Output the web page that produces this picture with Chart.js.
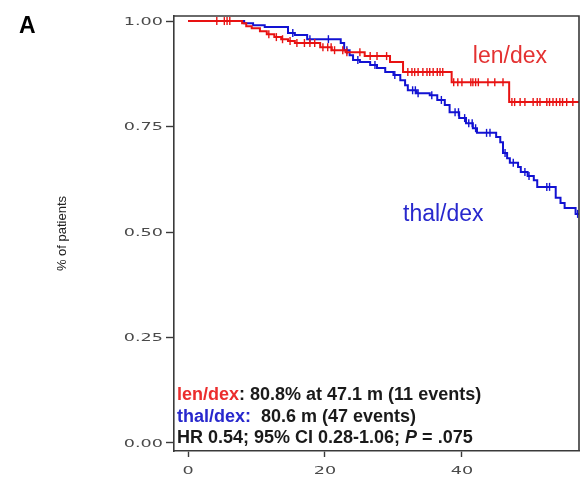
<!DOCTYPE html>
<html>
<head>
<meta charset="utf-8">
<script src="https://cdn.jsdelivr.net/npm/chart.js@4/dist/chart.umd.min.js"></script>
<style>
html,body{margin:0;padding:0;background:#fff;}
canvas{display:block;}
</style>
</head>
<body>
<canvas id="c" width="581" height="482"></canvas>
<script>
// ---- data ----
const redTimes = [0, 7.9, 8.5, 9.3, 10.5, 11.5, 12.6, 13.6, 14.6, 15.6, 19.3, 21.0, 23.0, 25.8, 29.5, 31.4, 38.5, 46.9, 57.1];
const redSurv  = [1.0, 0.995, 0.988, 0.983, 0.976, 0.969, 0.962, 0.957, 0.953, 0.948, 0.938, 0.931, 0.926, 0.917, 0.903, 0.879, 0.855, 0.808, 0.808];
const blueTimes = [0, 8.2, 9.5, 11.2, 14.6, 15.6, 17.4, 22.3, 22.8, 23.6, 24.1, 25.1, 26.6, 27.6, 28.8, 30.0, 31.0, 31.7, 32.1, 33.4, 35.3, 36.4, 37.5, 38.2, 39.6, 40.6, 41.6, 42.2, 45.0, 45.6, 46.0, 46.6, 47.0, 48.2, 48.6, 49.6, 50.5, 51.0, 53.7, 54.4, 55.0, 56.6, 57.1];
const blueSurv  = [1.0, 0.995, 0.990, 0.986, 0.972, 0.967, 0.957, 0.948, 0.931, 0.919, 0.908, 0.903, 0.896, 0.889, 0.879, 0.872, 0.860, 0.848, 0.836, 0.829, 0.824, 0.813, 0.801, 0.784, 0.770, 0.758, 0.746, 0.735, 0.725, 0.713, 0.687, 0.675, 0.664, 0.654, 0.642, 0.633, 0.623, 0.607, 0.581, 0.569, 0.557, 0.543, 0.543];
const redCensor = [4.2, 5.3, 5.7, 6.1, 11.8, 12.9, 13.8, 14.9, 15.9, 17.0, 17.8, 18.5, 19.7, 20.4, 20.9, 21.4, 22.6, 23.2, 25.1, 26.6, 27.6, 29.0, 32.1, 32.7, 33.1, 33.6, 34.3, 34.9, 35.3, 35.8, 36.4, 36.8, 37.2, 38.8, 39.4, 40.0, 41.3, 41.6, 42.0, 42.4, 43.8, 44.8, 46.0, 47.3, 47.7, 48.5, 49.2, 50.4, 51.0, 51.4, 52.4, 52.8, 53.3, 53.8, 54.3, 54.7, 55.3, 56.2];
const blueCensor = [15.3, 17.8, 20.5, 23.2, 24.8, 27.3, 30.2, 32.8, 33.2, 33.6, 35.6, 37.0, 39.0, 39.5, 40.4, 41.0, 41.5, 42.0, 43.6, 44.1, 46.3, 47.5, 49.2, 49.8, 52.4, 52.8, 56.9];
const xTicks = [0, 20, 40];
const yTicks = [0, 0.25, 0.5, 0.75, 1.0];
const yTickLabels = ['0.00', '0.25', '0.50', '0.75', '1.00'];
const seriesNames = ['len/dex', 'thal/dex'];

// ---- helpers ----
function toPoints(ts, ss) { return ts.map((t, i) => ({x: t, y: ss[i]})); }
function stepAt(ts, ss, t) { let v = ss[0]; for (let i = 0; i < ts.length; i++) { if (ts[i] <= t) v = ss[i]; } return v; }
function censorPoints(cs, ts, ss) { return cs.map(t => ({x: t, y: stepAt(ts, ss, t)})); }

const RED = 'rgb(232,18,18)';
const BLUE = 'rgb(18,18,210)';
const AXIS = '#3a3a3a';

const overlay = {
  id: 'overlay',
  afterDraw(chart) {
    const ctx = chart.ctx;
    const a = chart.chartArea;
    const xs = chart.scales.x, ys = chart.scales.y;
    ctx.save();
    // frame top & right
    ctx.strokeStyle = AXIS; ctx.lineWidth = 1.6;
    ctx.beginPath();
    ctx.moveTo(a.left, a.top); ctx.lineTo(a.right, a.top); ctx.lineTo(a.right, a.bottom);
    ctx.stroke();
    // y tick labels (wide font)
    ctx.fillStyle = '#4a4a4a';
    ctx.font = '11px "DejaVu Sans"';
    ctx.textBaseline = 'middle';
    ctx.textAlign = 'right';
    yTicks.forEach((v, i) => {
      const y = ys.getPixelForValue(v);
      ctx.save(); ctx.translate(a.left - 11, y + 1); ctx.scale(1.6, 1);
      ctx.fillText(yTickLabels[i], 0, 0); ctx.restore();
    });
    ctx.textAlign = 'center';
    xTicks.forEach(v => {
      const x = xs.getPixelForValue(v);
      ctx.save(); ctx.translate(x, a.bottom + 20); ctx.scale(1.6, 1);
      ctx.fillText(String(v), 0, 0); ctx.restore();
    });
    // panel letter
    ctx.fillStyle = '#000';
    ctx.textAlign = 'left'; ctx.textBaseline = 'alphabetic';
    ctx.font = 'bold 23px "Liberation Sans", Arial, sans-serif';
    ctx.fillText('A', 19, 33);
    // series labels
    ctx.font = '23px "Liberation Sans", Arial, sans-serif';
    ctx.fillStyle = 'rgb(228,50,50)';
    ctx.fillText(seriesNames[0], xs.getPixelForValue(41.6), ys.getPixelForValue(0.900));
    ctx.fillStyle = 'rgb(40,40,205)';
    ctx.fillText(seriesNames[1], xs.getPixelForValue(31.4), ys.getPixelForValue(0.526));
    // summary text
    const bold = 'bold 18px "Liberation Sans", Arial, sans-serif';
    const boldIt = 'italic bold 18px "Liberation Sans", Arial, sans-serif';
    function runs(parts, x, y) {
      parts.forEach(p => {
        ctx.font = p[2] || bold; ctx.fillStyle = p[1];
        ctx.fillText(p[0], x, y); x += ctx.measureText(p[0]).width;
      });
    }
    const x0 = a.left + 3;
    runs([[seriesNames[0], 'rgb(235,45,45)'], [': 80.8% at 47.1 m (11 events)', '#1a1a1a']], x0, a.bottom - 51);
    runs([[seriesNames[1] + ':', 'rgb(40,40,205)'], ['  80.6 m (47 events)', '#1a1a1a']], x0, a.bottom - 29.5);
    runs([['HR 0.54; 95% CI 0.28-1.06; ', '#1a1a1a'], ['P', '#1a1a1a', boldIt], [' = .075', '#1a1a1a']], x0, a.bottom - 8);
    ctx.restore();
  }
};

new Chart(document.getElementById('c'), {
  type: 'line',
  data: {
    datasets: [
      { label: seriesNames[0] + ' censored', type: 'scatter', data: censorPoints(redCensor, redTimes, redSurv),
        pointStyle: 'line', rotation: 90, radius: 4, borderColor: RED, borderWidth: 1.4, showLine: false },
      { label: seriesNames[0], data: toPoints(redTimes, redSurv), stepped: true, borderColor: RED, borderWidth: 2, pointRadius: 0, fill: false },
      { label: seriesNames[1] + ' censored', type: 'scatter', data: censorPoints(blueCensor, blueTimes, blueSurv),
        pointStyle: 'line', rotation: 90, radius: 4, borderColor: BLUE, borderWidth: 1.4, showLine: false },
      { label: seriesNames[1], data: toPoints(blueTimes, blueSurv), stepped: true, borderColor: BLUE, borderWidth: 2, pointRadius: 0, fill: false }
    ]
  },
  options: {
    responsive: false,
    animation: false,
    events: [],
    layout: { autoPadding: false, padding: { top: 16, right: 2, left: 0, bottom: 0 } },
    plugins: { legend: { display: false }, tooltip: { enabled: false } },
    scales: {
      x: {
        type: 'linear', min: -2.05, max: 57.1,
        afterBuildTicks: s => { s.ticks = xTicks.map(v => ({value: v})); },
        afterFit: s => { s.height = 31; },
        ticks: { display: false },
        grid: { display: true, drawOnChartArea: false, drawTicks: true, tickLength: 6, color: AXIS, tickWidth: 1.4 },
        border: { display: true, color: AXIS, width: 1.6 }
      },
      y: {
        type: 'linear', min: -0.019, max: 1.012,
        afterBuildTicks: s => { s.ticks = yTicks.map(v => ({value: v})); },
        afterFit: s => { s.width = 174; },
        ticks: { display: false },
        grid: { display: true, drawOnChartArea: false, drawTicks: true, tickLength: 8, color: AXIS, tickWidth: 1.4 },
        border: { display: true, color: AXIS, width: 1.6 },
        title: { display: true, text: '% of patients', color: '#222', font: { family: '"Liberation Sans", Arial, sans-serif', size: 13 }, padding: { top: 55, bottom: 0 } }
      }
    }
  },
  plugins: [overlay]
});
</script>
</body>
</html>
